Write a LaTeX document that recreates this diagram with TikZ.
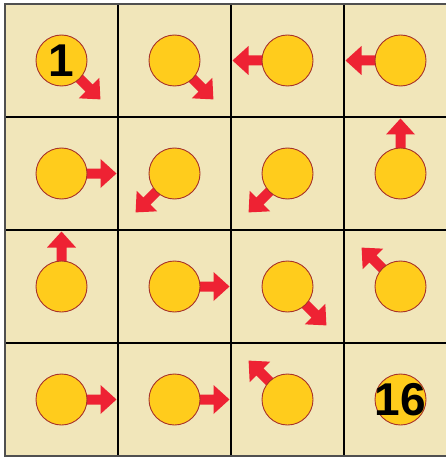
\documentclass[tikz,border=0pt]{standalone}
\usepackage{fontspec}
\setmainfont{Liberation Sans}
\definecolor{bgtan}{HTML}{F1E6BA}
\definecolor{coin}{HTML}{FFCC1C}
\definecolor{coinedge}{HTML}{A8322A}
\definecolor{arrowred}{HTML}{EE2233}
\definecolor{frame}{HTML}{505050}
\tikzset{
  coinnode/.style={circle, fill=coin, draw=coinedge, line width=0.9pt, minimum size=51pt, inner sep=0pt},
  gridline/.style={black, line width=1.2pt},
  outerline/.style={frame, line width=2pt},
  numtext/.style={font=\fontsize{46}{46}\selectfont\bfseries, text=black}
}
\begin{document}
\begin{tikzpicture}[x=1pt,y=-1pt]
\useasboundingbox (0,0) rectangle (446,457);
\fill[bgtan] (5,4) rectangle (458,456);
% grid
\foreach \i in {1,2,3}{
  \draw[gridline] (5+113*\i,4) -- (5+113*\i,456);
  \draw[gridline] (5,4+113*\i) -- (458,4+113*\i);
}
\draw[outerline] (458,456) -- (5,456) -- (5,4) -- (458,4);
% arrows: row/col/angle
\foreach \r/\c/\a in {0/0/-45, 0/1/-45, 0/2/180, 0/3/180,
                       1/0/0, 1/1/-135, 1/2/-135, 1/3/90,
                       2/0/90, 2/1/0, 2/2/-45, 2/3/135,
                       3/0/0, 3/1/0, 3/2/135}{
  \fill[arrowred, shift={(61.5+113*\c,60.5+113*\r)}, rotate=\a]
    (20,-5) -- (39,-5) -- (39,-14.5) -- (55,0) -- (39,14.5) -- (39,5) -- (20,5) -- cycle;
}
% coins
\foreach \r in {0,1,2,3}{
  \foreach \c in {0,1,2,3}{
    \node[coinnode] (coin-\r-\c) at (61.5+113*\c,60.5+113*\r) {};
  }
}
\node[numtext] (n1) at (coin-0-0) {1};
\node[numtext] (n16) at (coin-3-3) {16};
\end{tikzpicture}
\end{document}
